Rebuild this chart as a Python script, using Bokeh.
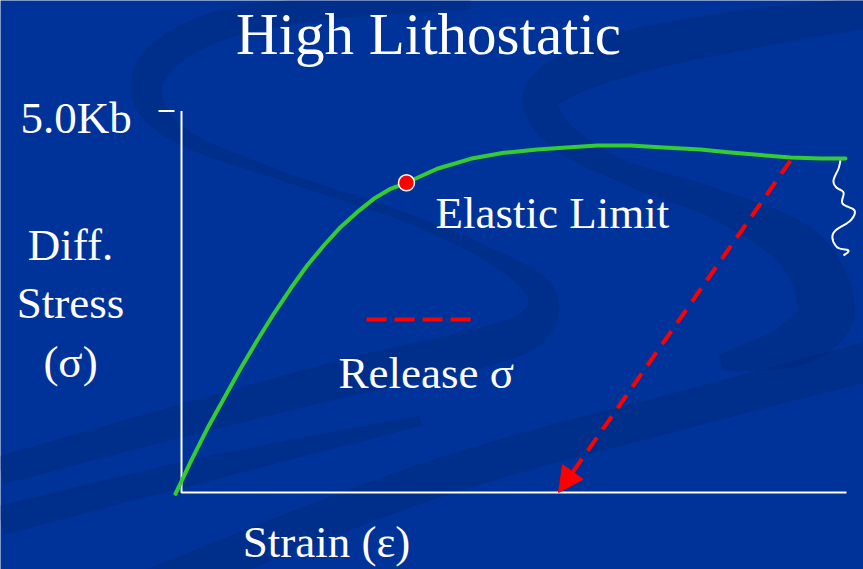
import numpy as np
from bokeh.plotting import figure
from bokeh.models import Range1d, Arrow, NormalHead
from bokeh.core.properties import value
from bokeh.embed import file_html
from bokeh.resources import INLINE

# ---- stress-strain data (strain in arbitrary units, stress in Kb) ----
strain = [-0.09, 0.135, 0.386, 0.636, 0.887, 1.138, 1.388, 1.639, 1.890,
          2.140, 2.391, 2.642, 2.892, 3.143, 3.383, 3.845, 4.346, 4.847,
          5.349, 5.850, 6.256, 6.752, 7.248, 7.805, 8.256, 8.707, 9.158,
          9.609, 9.985]
stress = [-0.017, 0.397, 0.835, 1.228, 1.622, 1.992, 2.342, 2.670, 2.975,
          3.237, 3.477, 3.674, 3.849, 3.980, 4.059, 4.243, 4.373, 4.452,
          4.495, 4.526, 4.548, 4.548, 4.522, 4.495, 4.456, 4.423, 4.391,
          4.377, 4.377]
elastic_limit = (3.383, 4.059)
release_start = (9.158, 4.35)
release_end = (5.67, 0.0)
stress_max = 5.0
strain_max = 10.0
tick_label = "5.0Kb"

W, H = 863, 569
# pixel layout of the plot origin and scale
OX, OY = 181, 492
SX = (846 - OX) / strain_max
SY = (OY - 110.5) / stress_max


def dx(px):
    return (np.asarray(px, dtype=float) - OX) / SX


def dy(py):
    return (OY - np.asarray(py, dtype=float)) / SY


def catmull(pts, n=12):
    pts = np.asarray(pts, dtype=float)
    p = np.vstack([pts[0], pts, pts[-1]])
    out = []
    for i in range(1, len(p) - 2):
        p0, p1, p2, p3 = p[i - 1], p[i], p[i + 1], p[i + 2]
        for t in np.linspace(0, 1, n, endpoint=False):
            t2, t3 = t * t, t * t * t
            out.append(0.5 * ((2 * p1) + (-p0 + p2) * t +
                              (2 * p0 - 5 * p1 + 4 * p2 - p3) * t2 +
                              (-p0 + 3 * p1 - 3 * p2 + p3) * t3))
    out.append(p[-2])
    return np.array(out)


def ribbon(center, widths):
    c = catmull(center)
    w = np.interp(np.linspace(0, 1, len(c)), np.linspace(0, 1, len(widths)), widths)
    d = np.gradient(c, axis=0)
    nrm = np.stack([-d[:, 1], d[:, 0]], axis=1)
    nrm /= np.linalg.norm(nrm, axis=1, keepdims=True) + 1e-9
    a = c + nrm * w[:, None] / 2
    b = c - nrm * w[:, None] / 2
    poly = np.vstack([a, b[::-1]])
    return list(dx(poly[:, 0])), list(dy(poly[:, 1]))


p = figure(width=W, height=H, output_backend="svg", toolbar_location=None,
           x_range=Range1d(dx(0), dx(W)), y_range=Range1d(dy(H), dy(0)),
           min_border=0, background_fill_color="#003399",
           border_fill_color="#003399")
p.axis.visible = False
p.grid.visible = False
p.outline_line_color = None

# ---- decorative ribbons in the background ----
ribbons = [
    ([(470, 4), (330, 8), (220, 25), (158, 60), (148, 100), (185, 138),
      (280, 175), (400, 215), (490, 255), (540, 292), (530, 328),
      (470, 350), (360, 374), (220, 410), (90, 445), (0, 470)],
     [10, 22, 30, 34, 30, 16, 9, 9, 14, 28, 38, 40, 38, 34, 30, 28]),
    ([(870, 12), (740, 30), (620, 55), (545, 90), (555, 130), (620, 170),
      (720, 205), (800, 250), (825, 310), (790, 345), (720, 362)],
     [30, 40, 45, 40, 30, 22, 30, 50, 60, 45, 15]),
    ([(120, 600), (430, 480), (700, 405), (880, 358)],
     [40, 38, 38, 40]),
    ([(0, 520), (200, 470), (420, 420)],
     [30, 25, 10]),
]
for cen, wid in ribbons:
    xs, ys = ribbon(cen, wid)
    p.patch(xs, ys, fill_color="#00266f", fill_alpha=0.32, line_color=None)

# ---- axes ----
p.line([0, 0, strain_max], [stress_max, 0, 0], line_color="white", line_width=2)
p.line(list(dx([158, 174])), [stress_max, stress_max], line_color="white", line_width=2)

# ---- stress-strain curve ----
p.line(strain, stress, line_color="#33cc33", line_width=4, line_join="round",
       line_cap="round")

# ---- release path ----
p.add_layout(Arrow(x_start=release_start[0], y_start=release_start[1],
                   x_end=release_end[0], y_end=release_end[1],
                   line_color="#ff0000", line_width=4, line_dash="16 10",
                   end=NormalHead(size=25, fill_color="#ff0000",
                                  line_color="#ff0000", line_width=1)))

# legend sample for the release path
p.line(list(dx([366, 470])), list(dy([319, 319])), line_color="#ff0000",
       line_width=4, line_dash="20 8")

# ---- break symbol at the curve end ----
wave = catmull([(840, 160), (838, 168), (833, 180), (836, 187), (843, 192),
                (842, 203), (854, 210), (850, 220), (835, 230), (832, 238),
                (837, 247), (848, 250), (843, 255)], n=8)
p.line(list(dx(wave[:, 0])), list(dy(wave[:, 1])), line_color="white",
       line_width=2)

# ---- elastic limit marker ----
p.scatter([elastic_limit[0]], [elastic_limit[1]], size=16, fill_color="#ff0000",
          line_color="white", line_width=1.5)

# ---- texts ----
font = value("Liberation Serif")


def label(txt, px, base, size, align):
    # the svg text baseline sits about 0.37 em below the anchor
    py = base - 0.37 * size
    p.text(x=[float(dx(px))], y=[float(dy(py))], text=[txt], text_font=font,
           text_font_size=value(f"{size}px"), text_color="white",
           text_align=align, text_baseline="alphabetic")


label("High Lithostatic", 428, 55, 59, "center")
label(tick_label, 20, 134, 45, "left")
label("Diff.", 70, 261, 45, "center")
label("Stress", 70, 319, 45, "center")
label("(σ)", 70, 378, 45, "center")
label("Elastic Limit", 435, 229, 45, "left")
label("Release σ", 338, 389, 45, "left")
label("Strain (ε)", 326, 558, 45, "center")

open("out.html", "w").write(file_html(p, INLINE))
